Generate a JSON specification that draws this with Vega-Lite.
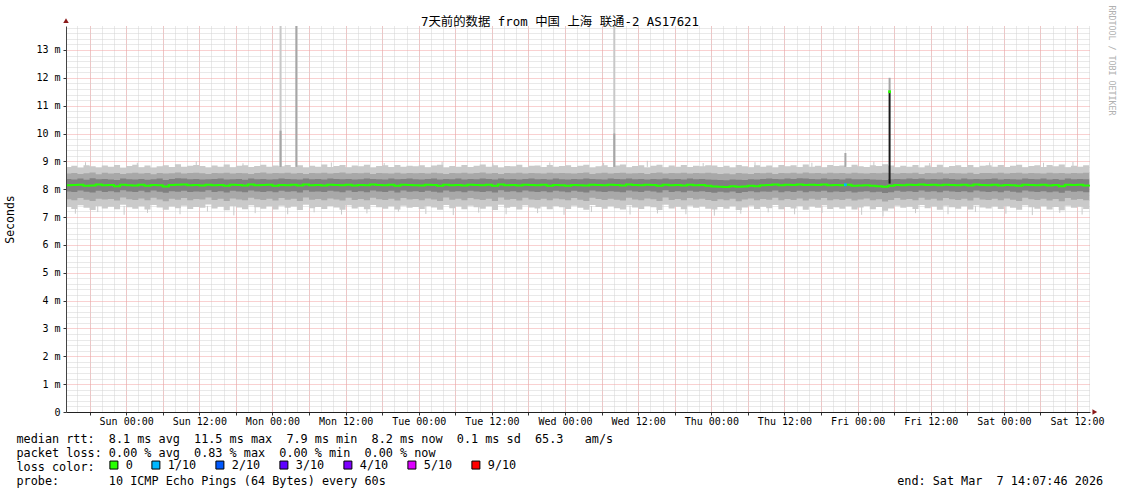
{
"$schema": "https://vega.github.io/schema/vega-lite/v6.json",
"width": 1024, "height": 386,
"autosize": {"type": "none"},
"padding": {"left": 66, "top": 26, "right": 31, "bottom": 82},
"background": "white",
"config": {"view": {"stroke": null}, "font": "DejaVu Sans Mono"},
"title": {"text": "7天前的数据 from 中国 上海 联通-2 AS17621", "font": "'DejaVu Sans Mono', 'Noto Sans CJK SC'", "fontSize": 12.4, "fontWeight": "normal", "color": "#000", "anchor": "middle", "dx": -18, "dy": 34, "baseline": "middle", "offset": 5},
"datasets": {
"smoke": [
{"t":"2026-02-28T14:00Z","a":7.36,"b":7.64,"c":7.92,"m":8.14,"d":8.37,"e":8.56,"f":8.80},
{"t":"2026-02-28T15:00Z","a":7.29,"b":7.60,"c":7.90,"m":8.15,"d":8.35,"e":8.58,"f":8.84},
{"t":"2026-02-28T16:00Z","a":7.42,"b":7.68,"c":7.95,"m":8.16,"d":8.38,"e":8.55,"f":8.77},
{"t":"2026-02-28T17:00Z","a":7.33,"b":7.62,"c":7.91,"m":8.12,"d":8.34,"e":8.57,"f":8.86},
{"t":"2026-02-28T18:00Z","a":7.25,"b":7.58,"c":7.88,"m":8.13,"d":8.39,"e":8.60,"f":8.82},
{"t":"2026-02-28T19:00Z","a":7.40,"b":7.66,"c":7.94,"m":8.17,"d":8.36,"e":8.54,"f":8.78},
{"t":"2026-02-28T20:00Z","a":7.31,"b":7.63,"c":7.90,"m":8.14,"d":8.37,"e":8.59,"f":8.85},
{"t":"2026-02-28T21:00Z","a":7.37,"b":7.65,"c":7.93,"m":8.15,"d":8.35,"e":8.56,"f":8.81},
{"t":"2026-02-28T22:00Z","a":7.28,"b":7.59,"c":7.89,"m":8.11,"d":8.33,"e":8.58,"f":8.87},
{"t":"2026-02-28T23:00Z","a":7.44,"b":7.70,"c":7.96,"m":8.16,"d":8.38,"e":8.55,"f":8.76},
{"t":"2026-03-01T00:00Z","a":7.35,"b":7.64,"c":7.92,"m":8.14,"d":8.36,"e":8.57,"f":8.83},
{"t":"2026-03-01T01:00Z","a":7.30,"b":7.61,"c":7.90,"m":8.13,"d":8.35,"e":8.59,"f":8.88},
{"t":"2026-03-01T02:00Z","a":7.39,"b":7.67,"c":7.94,"m":8.16,"d":8.37,"e":8.56,"f":8.79},
{"t":"2026-03-01T03:00Z","a":7.27,"b":7.60,"c":7.89,"m":8.12,"d":8.34,"e":8.58,"f":8.85},
{"t":"2026-03-01T04:00Z","a":7.43,"b":7.69,"c":7.95,"m":8.15,"d":8.36,"e":8.54,"f":8.77},
{"t":"2026-03-01T05:00Z","a":7.34,"b":7.63,"c":7.91,"m":8.14,"d":8.38,"e":8.58,"f":8.82},
{"t":"2026-03-01T06:00Z","a":7.26,"b":7.57,"c":7.87,"m":8.10,"d":8.33,"e":8.56,"f":8.86},
{"t":"2026-03-01T07:00Z","a":7.38,"b":7.66,"c":7.93,"m":8.15,"d":8.37,"e":8.57,"f":8.80},
{"t":"2026-03-01T08:00Z","a":7.32,"b":7.62,"c":7.91,"m":8.16,"d":8.39,"e":8.60,"f":8.90},
{"t":"2026-03-01T09:00Z","a":7.41,"b":7.68,"c":7.94,"m":8.17,"d":8.38,"e":8.56,"f":8.81},
{"t":"2026-03-01T10:00Z","a":7.29,"b":7.60,"c":7.90,"m":8.14,"d":8.36,"e":8.58,"f":8.84},
{"t":"2026-03-01T11:00Z","a":7.36,"b":7.65,"c":7.92,"m":8.15,"d":8.37,"e":8.59,"f":8.87},
{"t":"2026-03-01T12:00Z","a":7.33,"b":7.63,"c":7.91,"m":8.13,"d":8.35,"e":8.57,"f":8.83},
{"t":"2026-03-01T13:00Z","a":7.45,"b":7.70,"c":7.96,"m":8.16,"d":8.36,"e":8.55,"f":8.78},
{"t":"2026-03-01T14:00Z","a":7.31,"b":7.61,"c":7.90,"m":8.14,"d":8.37,"e":8.58,"f":8.85},
{"t":"2026-03-01T15:00Z","a":7.37,"b":7.66,"c":7.93,"m":8.15,"d":8.38,"e":8.57,"f":8.81},
{"t":"2026-03-01T16:00Z","a":7.24,"b":7.58,"c":7.88,"m":8.12,"d":8.35,"e":8.59,"f":8.89},
{"t":"2026-03-01T17:00Z","a":7.40,"b":7.67,"c":7.94,"m":8.16,"d":8.36,"e":8.56,"f":8.79},
{"t":"2026-03-01T18:00Z","a":7.34,"b":7.63,"c":7.92,"m":8.15,"d":8.37,"e":8.58,"f":8.84},
{"t":"2026-03-01T19:00Z","a":7.28,"b":7.60,"c":7.89,"m":8.13,"d":8.34,"e":8.57,"f":8.86},
{"t":"2026-03-01T20:00Z","a":7.42,"b":7.69,"c":7.95,"m":8.17,"d":8.38,"e":8.55,"f":8.80},
{"t":"2026-03-01T21:00Z","a":7.35,"b":7.64,"c":7.92,"m":8.14,"d":8.36,"e":8.58,"f":8.83},
{"t":"2026-03-01T22:00Z","a":7.30,"b":7.61,"c":7.90,"m":8.15,"d":8.37,"e":8.60,"f":8.88},
{"t":"2026-03-01T23:00Z","a":7.39,"b":7.66,"c":7.93,"m":8.16,"d":8.35,"e":8.56,"f":8.81},
{"t":"2026-03-02T00:00Z","a":7.27,"b":7.59,"c":7.89,"m":8.12,"d":8.36,"e":8.58,"f":8.85},
{"t":"2026-03-02T01:00Z","a":7.41,"b":7.68,"c":7.94,"m":8.15,"d":8.38,"e":8.57,"f":8.82},
{"t":"2026-03-02T02:00Z","a":7.33,"b":7.62,"c":7.91,"m":8.14,"d":8.37,"e":8.59,"f":8.87},
{"t":"2026-03-02T03:00Z","a":7.38,"b":7.66,"c":7.93,"m":8.16,"d":8.36,"e":8.56,"f":8.80},
{"t":"2026-03-02T04:00Z","a":7.25,"b":7.58,"c":7.88,"m":8.13,"d":8.35,"e":8.58,"f":8.86},
{"t":"2026-03-02T05:00Z","a":7.44,"b":7.70,"c":7.96,"m":8.17,"d":8.38,"e":8.55,"f":8.78},
{"t":"2026-03-02T06:00Z","a":7.32,"b":7.62,"c":7.91,"m":8.14,"d":8.36,"e":8.58,"f":8.84},
{"t":"2026-03-02T07:00Z","a":7.36,"b":7.65,"c":7.92,"m":8.15,"d":8.37,"e":8.57,"f":8.81},
{"t":"2026-03-02T08:00Z","a":7.29,"b":7.60,"c":7.90,"m":8.13,"d":8.35,"e":8.59,"f":8.89},
{"t":"2026-03-02T09:00Z","a":7.40,"b":7.67,"c":7.94,"m":8.16,"d":8.38,"e":8.56,"f":8.80},
{"t":"2026-03-02T10:00Z","a":7.34,"b":7.63,"c":7.92,"m":8.15,"d":8.37,"e":8.58,"f":8.83},
{"t":"2026-03-02T11:00Z","a":7.26,"b":7.59,"c":7.89,"m":8.14,"d":8.36,"e":8.60,"f":8.87},
{"t":"2026-03-02T12:00Z","a":7.42,"b":7.69,"c":7.95,"m":8.16,"d":8.37,"e":8.56,"f":8.79},
{"t":"2026-03-02T13:00Z","a":7.31,"b":7.61,"c":7.90,"m":8.13,"d":8.35,"e":8.58,"f":8.85},
{"t":"2026-03-02T14:00Z","a":7.37,"b":7.65,"c":7.93,"m":8.15,"d":8.36,"e":8.57,"f":8.82},
{"t":"2026-03-02T15:00Z","a":7.28,"b":7.60,"c":7.89,"m":8.14,"d":8.38,"e":8.59,"f":8.88},
{"t":"2026-03-02T16:00Z","a":7.43,"b":7.69,"c":7.95,"m":8.17,"d":8.37,"e":8.55,"f":8.78},
{"t":"2026-03-02T17:00Z","a":7.35,"b":7.64,"c":7.92,"m":8.15,"d":8.36,"e":8.58,"f":8.83},
{"t":"2026-03-02T18:00Z","a":7.30,"b":7.61,"c":7.90,"m":8.14,"d":8.35,"e":8.57,"f":8.86},
{"t":"2026-03-02T19:00Z","a":7.39,"b":7.66,"c":7.94,"m":8.16,"d":8.38,"e":8.56,"f":8.80},
{"t":"2026-03-02T20:00Z","a":7.27,"b":7.59,"c":7.88,"m":8.12,"d":8.36,"e":8.59,"f":8.87},
{"t":"2026-03-02T21:00Z","a":7.41,"b":7.68,"c":7.95,"m":8.16,"d":8.37,"e":8.56,"f":8.81},
{"t":"2026-03-02T22:00Z","a":7.33,"b":7.63,"c":7.91,"m":8.15,"d":8.38,"e":8.58,"f":8.84},
{"t":"2026-03-02T23:00Z","a":7.36,"b":7.65,"c":7.93,"m":8.14,"d":8.36,"e":8.57,"f":8.82},
{"t":"2026-03-03T00:00Z","a":7.29,"b":7.60,"c":7.90,"m":8.13,"d":8.35,"e":8.58,"f":8.86},
{"t":"2026-03-03T01:00Z","a":7.40,"b":7.67,"c":7.94,"m":8.16,"d":8.37,"e":8.56,"f":8.79},
{"t":"2026-03-03T02:00Z","a":7.34,"b":7.63,"c":7.91,"m":8.15,"d":8.38,"e":8.59,"f":8.85},
{"t":"2026-03-03T03:00Z","a":7.26,"b":7.58,"c":7.88,"m":8.12,"d":8.35,"e":8.57,"f":8.88},
{"t":"2026-03-03T04:00Z","a":7.43,"b":7.70,"c":7.95,"m":8.16,"d":8.37,"e":8.55,"f":8.78},
{"t":"2026-03-03T05:00Z","a":7.32,"b":7.62,"c":7.91,"m":8.14,"d":8.36,"e":8.58,"f":8.83},
{"t":"2026-03-03T06:00Z","a":7.38,"b":7.66,"c":7.93,"m":8.15,"d":8.38,"e":8.57,"f":8.81},
{"t":"2026-03-03T07:00Z","a":7.28,"b":7.60,"c":7.89,"m":8.13,"d":8.35,"e":8.59,"f":8.87},
{"t":"2026-03-03T08:00Z","a":7.41,"b":7.68,"c":7.94,"m":8.16,"d":8.37,"e":8.56,"f":8.80},
{"t":"2026-03-03T09:00Z","a":7.35,"b":7.64,"c":7.92,"m":8.15,"d":8.36,"e":8.58,"f":8.84},
{"t":"2026-03-03T10:00Z","a":7.30,"b":7.61,"c":7.90,"m":8.14,"d":8.38,"e":8.60,"f":8.89},
{"t":"2026-03-03T11:00Z","a":7.39,"b":7.66,"c":7.93,"m":8.16,"d":8.37,"e":8.56,"f":8.81},
{"t":"2026-03-03T12:00Z","a":7.25,"b":7.58,"c":7.88,"m":8.12,"d":8.35,"e":8.58,"f":8.86},
{"t":"2026-03-03T13:00Z","a":7.44,"b":7.70,"c":7.96,"m":8.17,"d":8.38,"e":8.55,"f":8.78},
{"t":"2026-03-03T14:00Z","a":7.33,"b":7.62,"c":7.91,"m":8.14,"d":8.36,"e":8.58,"f":8.83},
{"t":"2026-03-03T15:00Z","a":7.37,"b":7.65,"c":7.93,"m":8.15,"d":8.37,"e":8.57,"f":8.82},
{"t":"2026-03-03T16:00Z","a":7.27,"b":7.59,"c":7.89,"m":8.13,"d":8.35,"e":8.59,"f":8.88},
{"t":"2026-03-03T17:00Z","a":7.42,"b":7.69,"c":7.95,"m":8.16,"d":8.37,"e":8.56,"f":8.79},
{"t":"2026-03-03T18:00Z","a":7.34,"b":7.63,"c":7.92,"m":8.15,"d":8.38,"e":8.58,"f":8.84},
{"t":"2026-03-03T19:00Z","a":7.31,"b":7.61,"c":7.90,"m":8.14,"d":8.36,"e":8.57,"f":8.85},
{"t":"2026-03-03T20:00Z","a":7.38,"b":7.66,"c":7.93,"m":8.16,"d":8.37,"e":8.56,"f":8.80},
{"t":"2026-03-03T21:00Z","a":7.28,"b":7.60,"c":7.89,"m":8.12,"d":8.35,"e":8.59,"f":8.87},
{"t":"2026-03-03T22:00Z","a":7.40,"b":7.67,"c":7.94,"m":8.15,"d":8.38,"e":8.57,"f":8.81},
{"t":"2026-03-03T23:00Z","a":7.35,"b":7.64,"c":7.92,"m":8.14,"d":8.36,"e":8.58,"f":8.83},
{"t":"2026-03-04T00:00Z","a":7.29,"b":7.60,"c":7.89,"m":8.12,"d":8.35,"e":8.57,"f":8.86},
{"t":"2026-03-04T01:00Z","a":7.41,"b":7.68,"c":7.94,"m":8.15,"d":8.37,"e":8.56,"f":8.80},
{"t":"2026-03-04T02:00Z","a":7.33,"b":7.62,"c":7.91,"m":8.14,"d":8.36,"e":8.58,"f":8.84},
{"t":"2026-03-04T03:00Z","a":7.26,"b":7.58,"c":7.88,"m":8.13,"d":8.38,"e":8.60,"f":8.88},
{"t":"2026-03-04T04:00Z","a":7.43,"b":7.69,"c":7.95,"m":8.16,"d":8.37,"e":8.55,"f":8.78},
{"t":"2026-03-04T05:00Z","a":7.36,"b":7.65,"c":7.92,"m":8.15,"d":8.36,"e":8.57,"f":8.82},
{"t":"2026-03-04T06:00Z","a":7.30,"b":7.61,"c":7.90,"m":8.14,"d":8.35,"e":8.59,"f":8.86},
{"t":"2026-03-04T07:00Z","a":7.39,"b":7.66,"c":7.93,"m":8.16,"d":8.38,"e":8.56,"f":8.80},
{"t":"2026-03-04T08:00Z","a":7.32,"b":7.62,"c":7.91,"m":8.15,"d":8.37,"e":8.58,"f":8.85},
{"t":"2026-03-04T09:00Z","a":7.27,"b":7.59,"c":7.89,"m":8.13,"d":8.36,"e":8.59,"f":8.89},
{"t":"2026-03-04T10:00Z","a":7.42,"b":7.69,"c":7.95,"m":8.17,"d":8.38,"e":8.56,"f":8.79},
{"t":"2026-03-04T11:00Z","a":7.34,"b":7.63,"c":7.92,"m":8.15,"d":8.36,"e":8.57,"f":8.83},
{"t":"2026-03-04T12:00Z","a":7.29,"b":7.60,"c":7.90,"m":8.14,"d":8.37,"e":8.58,"f":8.86},
{"t":"2026-03-04T13:00Z","a":7.40,"b":7.67,"c":7.94,"m":8.16,"d":8.35,"e":8.55,"f":8.78},
{"t":"2026-03-04T14:00Z","a":7.35,"b":7.64,"c":7.92,"m":8.15,"d":8.37,"e":8.58,"f":8.84},
{"t":"2026-03-04T15:00Z","a":7.25,"b":7.58,"c":7.88,"m":8.12,"d":8.36,"e":8.60,"f":8.88},
{"t":"2026-03-04T16:00Z","a":7.44,"b":7.70,"c":7.96,"m":8.16,"d":8.38,"e":8.56,"f":8.79},
{"t":"2026-03-04T17:00Z","a":7.31,"b":7.61,"c":7.90,"m":8.14,"d":8.36,"e":8.58,"f":8.85},
{"t":"2026-03-04T18:00Z","a":7.37,"b":7.65,"c":7.93,"m":8.15,"d":8.37,"e":8.57,"f":8.81},
{"t":"2026-03-04T19:00Z","a":7.28,"b":7.60,"c":7.89,"m":8.13,"d":8.35,"e":8.59,"f":8.87},
{"t":"2026-03-04T20:00Z","a":7.41,"b":7.68,"c":7.94,"m":8.16,"d":8.38,"e":8.56,"f":8.80},
{"t":"2026-03-04T21:00Z","a":7.33,"b":7.63,"c":7.91,"m":8.14,"d":8.36,"e":8.58,"f":8.84},
{"t":"2026-03-04T22:00Z","a":7.38,"b":7.66,"c":7.93,"m":8.15,"d":8.37,"e":8.57,"f":8.82},
{"t":"2026-03-04T23:00Z","a":7.30,"b":7.61,"c":7.90,"m":8.12,"d":8.35,"e":8.59,"f":8.86},
{"t":"2026-03-05T00:00Z","a":7.27,"b":7.58,"c":7.87,"m":8.10,"d":8.34,"e":8.57,"f":8.85},
{"t":"2026-03-05T01:00Z","a":7.36,"b":7.64,"c":7.91,"m":8.09,"d":8.33,"e":8.55,"f":8.80},
{"t":"2026-03-05T02:00Z","a":7.30,"b":7.60,"c":7.88,"m":8.08,"d":8.32,"e":8.56,"f":8.84},
{"t":"2026-03-05T03:00Z","a":7.39,"b":7.66,"c":7.92,"m":8.11,"d":8.35,"e":8.54,"f":8.78},
{"t":"2026-03-05T04:00Z","a":7.25,"b":7.57,"c":7.86,"m":8.09,"d":8.34,"e":8.58,"f":8.87},
{"t":"2026-03-05T05:00Z","a":7.34,"b":7.63,"c":7.90,"m":8.10,"d":8.33,"e":8.56,"f":8.82},
{"t":"2026-03-05T06:00Z","a":7.41,"b":7.67,"c":7.93,"m":8.12,"d":8.36,"e":8.55,"f":8.79},
{"t":"2026-03-05T07:00Z","a":7.29,"b":7.60,"c":7.89,"m":8.11,"d":8.35,"e":8.58,"f":8.86},
{"t":"2026-03-05T08:00Z","a":7.37,"b":7.65,"c":7.92,"m":8.14,"d":8.37,"e":8.57,"f":8.81},
{"t":"2026-03-05T09:00Z","a":7.32,"b":7.62,"c":7.91,"m":8.15,"d":8.38,"e":8.59,"f":8.85},
{"t":"2026-03-05T10:00Z","a":7.43,"b":7.69,"c":7.95,"m":8.17,"d":8.37,"e":8.55,"f":8.78},
{"t":"2026-03-05T11:00Z","a":7.28,"b":7.60,"c":7.89,"m":8.14,"d":8.36,"e":8.58,"f":8.87},
{"t":"2026-03-05T12:00Z","a":7.36,"b":7.65,"c":7.93,"m":8.16,"d":8.38,"e":8.57,"f":8.82},
{"t":"2026-03-05T13:00Z","a":7.31,"b":7.61,"c":7.90,"m":8.15,"d":8.37,"e":8.59,"f":8.86},
{"t":"2026-03-05T14:00Z","a":7.40,"b":7.67,"c":7.94,"m":8.17,"d":8.39,"e":8.56,"f":8.80},
{"t":"2026-03-05T15:00Z","a":7.26,"b":7.59,"c":7.89,"m":8.15,"d":8.38,"e":8.60,"f":8.89},
{"t":"2026-03-05T16:00Z","a":7.38,"b":7.66,"c":7.93,"m":8.16,"d":8.37,"e":8.57,"f":8.81},
{"t":"2026-03-05T17:00Z","a":7.33,"b":7.62,"c":7.91,"m":8.15,"d":8.36,"e":8.58,"f":8.84},
{"t":"2026-03-05T18:00Z","a":7.42,"b":7.68,"c":7.94,"m":8.17,"d":8.38,"e":8.56,"f":8.79},
{"t":"2026-03-05T19:00Z","a":7.29,"b":7.60,"c":7.89,"m":8.14,"d":8.36,"e":8.59,"f":8.87},
{"t":"2026-03-05T20:00Z","a":7.35,"b":7.64,"c":7.92,"m":8.15,"d":8.37,"e":8.57,"f":8.83},
{"t":"2026-03-05T21:00Z","a":7.30,"b":7.61,"c":7.90,"m":8.14,"d":8.35,"e":8.58,"f":8.85},
{"t":"2026-03-05T22:00Z","a":7.39,"b":7.66,"c":7.93,"m":8.16,"d":8.38,"e":8.56,"f":8.80},
{"t":"2026-03-05T23:00Z","a":7.27,"b":7.59,"c":7.88,"m":8.12,"d":8.36,"e":8.59,"f":8.88},
{"t":"2026-03-06T00:00Z","a":7.34,"b":7.63,"c":7.91,"m":8.13,"d":8.36,"e":8.57,"f":8.82},
{"t":"2026-03-06T01:00Z","a":7.40,"b":7.67,"c":7.93,"m":8.14,"d":8.37,"e":8.56,"f":8.80},
{"t":"2026-03-06T02:00Z","a":7.28,"b":7.60,"c":7.89,"m":8.12,"d":8.35,"e":8.58,"f":8.86},
{"t":"2026-03-06T03:00Z","a":7.36,"b":7.64,"c":7.91,"m":8.11,"d":8.34,"e":8.57,"f":8.83},
{"t":"2026-03-06T04:00Z","a":7.23,"b":7.56,"c":7.86,"m":8.09,"d":8.33,"e":8.59,"f":8.90},
{"t":"2026-03-06T05:00Z","a":7.31,"b":7.61,"c":7.89,"m":8.12,"d":8.36,"e":8.58,"f":8.85},
{"t":"2026-03-06T06:00Z","a":7.41,"b":7.68,"c":7.94,"m":8.15,"d":8.37,"e":8.56,"f":8.79},
{"t":"2026-03-06T07:00Z","a":7.33,"b":7.62,"c":7.91,"m":8.14,"d":8.36,"e":8.58,"f":8.84},
{"t":"2026-03-06T08:00Z","a":7.37,"b":7.65,"c":7.93,"m":8.16,"d":8.38,"e":8.57,"f":8.81},
{"t":"2026-03-06T09:00Z","a":7.29,"b":7.60,"c":7.90,"m":8.15,"d":8.37,"e":8.59,"f":8.87},
{"t":"2026-03-06T10:00Z","a":7.43,"b":7.69,"c":7.95,"m":8.17,"d":8.38,"e":8.55,"f":8.78},
{"t":"2026-03-06T11:00Z","a":7.32,"b":7.62,"c":7.91,"m":8.15,"d":8.36,"e":8.58,"f":8.85},
{"t":"2026-03-06T12:00Z","a":7.38,"b":7.66,"c":7.93,"m":8.16,"d":8.37,"e":8.57,"f":8.80},
{"t":"2026-03-06T13:00Z","a":7.26,"b":7.59,"c":7.89,"m":8.14,"d":8.36,"e":8.60,"f":8.88},
{"t":"2026-03-06T14:00Z","a":7.41,"b":7.68,"c":7.94,"m":8.16,"d":8.38,"e":8.56,"f":8.79},
{"t":"2026-03-06T15:00Z","a":7.35,"b":7.64,"c":7.92,"m":8.15,"d":8.37,"e":8.58,"f":8.83},
{"t":"2026-03-06T16:00Z","a":7.30,"b":7.61,"c":7.90,"m":8.14,"d":8.35,"e":8.57,"f":8.86},
{"t":"2026-03-06T17:00Z","a":7.39,"b":7.66,"c":7.93,"m":8.16,"d":8.38,"e":8.56,"f":8.80},
{"t":"2026-03-06T18:00Z","a":7.27,"b":7.59,"c":7.89,"m":8.13,"d":8.36,"e":8.59,"f":8.87},
{"t":"2026-03-06T19:00Z","a":7.42,"b":7.69,"c":7.95,"m":8.17,"d":8.37,"e":8.55,"f":8.79},
{"t":"2026-03-06T20:00Z","a":7.34,"b":7.63,"c":7.92,"m":8.15,"d":8.36,"e":8.58,"f":8.84},
{"t":"2026-03-06T21:00Z","a":7.31,"b":7.61,"c":7.90,"m":8.14,"d":8.37,"e":8.58,"f":8.86},
{"t":"2026-03-06T22:00Z","a":7.38,"b":7.66,"c":7.93,"m":8.16,"d":8.38,"e":8.57,"f":8.81},
{"t":"2026-03-06T23:00Z","a":7.29,"b":7.60,"c":7.89,"m":8.13,"d":8.35,"e":8.59,"f":8.87},
{"t":"2026-03-07T00:00Z","a":7.40,"b":7.67,"c":7.94,"m":8.15,"d":8.37,"e":8.56,"f":8.80},
{"t":"2026-03-07T01:00Z","a":7.33,"b":7.62,"c":7.91,"m":8.14,"d":8.36,"e":8.58,"f":8.84},
{"t":"2026-03-07T02:00Z","a":7.26,"b":7.58,"c":7.88,"m":8.12,"d":8.35,"e":8.59,"f":8.88},
{"t":"2026-03-07T03:00Z","a":7.42,"b":7.69,"c":7.95,"m":8.16,"d":8.38,"e":8.56,"f":8.79},
{"t":"2026-03-07T04:00Z","a":7.35,"b":7.64,"c":7.92,"m":8.15,"d":8.37,"e":8.58,"f":8.83},
{"t":"2026-03-07T05:00Z","a":7.30,"b":7.61,"c":7.90,"m":8.14,"d":8.36,"e":8.57,"f":8.86},
{"t":"2026-03-07T06:00Z","a":7.39,"b":7.66,"c":7.93,"m":8.16,"d":8.38,"e":8.56,"f":8.80},
{"t":"2026-03-07T07:00Z","a":7.27,"b":7.59,"c":7.89,"m":8.13,"d":8.35,"e":8.59,"f":8.87},
{"t":"2026-03-07T08:00Z","a":7.36,"b":7.65,"c":7.92,"m":8.15,"d":8.37,"e":8.57,"f":8.82},
{"t":"2026-03-07T09:00Z","a":7.24,"b":7.57,"c":7.87,"m":8.11,"d":8.34,"e":8.58,"f":8.89},
{"t":"2026-03-07T10:00Z","a":7.41,"b":7.68,"c":7.94,"m":8.16,"d":8.38,"e":8.56,"f":8.79},
{"t":"2026-03-07T11:00Z","a":7.33,"b":7.62,"c":7.91,"m":8.15,"d":8.36,"e":8.58,"f":8.84},
{"t":"2026-03-07T12:00Z","a":7.37,"b":7.65,"c":7.93,"m":8.16,"d":8.37,"e":8.57,"f":8.81},
{"t":"2026-03-07T13:00Z","a":7.29,"b":7.60,"c":7.89,"m":8.13,"d":8.36,"e":8.59,"f":8.86},
{"t":"2026-03-07T14:00Z","a":7.38,"b":7.66,"c":7.93,"m":8.16,"d":8.37,"e":8.56,"f":8.80}
],
"whisk": [
{"t":"2026-02-28T15:40Z","lo":7.12,"hi":7.4},{"t":"2026-02-28T17:20Z","lo":8.8,"hi":8.97},{"t":"2026-02-28T19:20Z","lo":7.18,"hi":7.4},{"t":"2026-02-28T23:40Z","lo":7.08,"hi":7.4},
{"t":"2026-03-01T01:50Z","lo":8.8,"hi":8.95},{"t":"2026-03-01T03:30Z","lo":7.15,"hi":7.4},{"t":"2026-03-01T08:50Z","lo":7.10,"hi":7.4},{"t":"2026-03-01T11:30Z","lo":8.8,"hi":9.0},
{"t":"2026-03-01T13:20Z","lo":7.20,"hi":7.4},{"t":"2026-03-01T17:40Z","lo":7.06,"hi":7.4},{"t":"2026-03-01T19:10Z","lo":8.8,"hi":8.93},{"t":"2026-03-01T21:10Z","lo":7.14,"hi":7.4},
{"t":"2026-03-02T02:30Z","lo":7.10,"hi":7.4},{"t":"2026-03-02T06:50Z","lo":7.17,"hi":7.4},{"t":"2026-03-02T09:40Z","lo":8.8,"hi":8.96},{"t":"2026-03-02T11:20Z","lo":7.09,"hi":7.4},
{"t":"2026-03-02T15:30Z","lo":7.13,"hi":7.4},{"t":"2026-03-02T18:20Z","lo":8.8,"hi":8.94},{"t":"2026-03-02T20:40Z","lo":7.19,"hi":7.4},{"t":"2026-03-03T01:10Z","lo":7.11,"hi":7.4},
{"t":"2026-03-03T03:50Z","lo":8.8,"hi":8.98},{"t":"2026-03-03T05:40Z","lo":7.07,"hi":7.4},{"t":"2026-03-03T09:50Z","lo":7.16,"hi":7.4},{"t":"2026-03-03T12:10Z","lo":8.8,"hi":8.93},
{"t":"2026-03-03T14:20Z","lo":7.10,"hi":7.4},{"t":"2026-03-03T19:30Z","lo":7.14,"hi":7.4},{"t":"2026-03-03T21:30Z","lo":8.8,"hi":8.96},{"t":"2026-03-03T23:50Z","lo":7.08,"hi":7.4},
{"t":"2026-03-04T04:20Z","lo":7.18,"hi":7.4},{"t":"2026-03-04T06:20Z","lo":8.8,"hi":8.95},{"t":"2026-03-04T10:40Z","lo":7.09,"hi":7.4},{"t":"2026-03-04T13:30Z","lo":8.8,"hi":9.02},
{"t":"2026-03-04T15:10Z","lo":7.13,"hi":7.4},{"t":"2026-03-04T19:50Z","lo":7.10,"hi":7.4},{"t":"2026-03-04T22:40Z","lo":8.8,"hi":8.94},{"t":"2026-03-05T00:30Z","lo":7.05,"hi":7.4},
{"t":"2026-03-05T04:50Z","lo":7.12,"hi":7.4},{"t":"2026-03-05T07:10Z","lo":8.8,"hi":8.97},{"t":"2026-03-05T09:20Z","lo":7.17,"hi":7.4},{"t":"2026-03-05T13:40Z","lo":7.10,"hi":7.4},
{"t":"2026-03-05T16:30Z","lo":8.8,"hi":8.95},{"t":"2026-03-05T18:10Z","lo":7.15,"hi":7.4},{"t":"2026-03-06T00:40Z","lo":7.08,"hi":7.4},{"t":"2026-03-06T02:40Z","lo":8.8,"hi":8.99},
{"t":"2026-03-06T04:10Z","lo":7.02,"hi":7.4},{"t":"2026-03-06T09:30Z","lo":7.14,"hi":7.4},{"t":"2026-03-06T11:50Z","lo":8.8,"hi":8.94},{"t":"2026-03-06T14:50Z","lo":7.10,"hi":7.4},
{"t":"2026-03-06T19:20Z","lo":7.18,"hi":7.4},{"t":"2026-03-06T21:40Z","lo":8.8,"hi":8.96},{"t":"2026-03-07T00:20Z","lo":7.12,"hi":7.4},{"t":"2026-03-07T04:40Z","lo":7.07,"hi":7.4},
{"t":"2026-03-07T06:30Z","lo":8.8,"hi":8.95},{"t":"2026-03-07T09:10Z","lo":7.15,"hi":7.4},{"t":"2026-03-07T11:20Z","lo":8.8,"hi":8.98},{"t":"2026-03-07T12:50Z","lo":7.09,"hi":7.4}
],
"spikes": [
{"t":"2026-03-02T01:20Z","lo":8.8,"hi":14,"k":"light"},
{"t":"2026-03-02T01:20Z","lo":8.8,"hi":10.1,"k":"mid"},
{"t":"2026-03-02T03:55Z","lo":8.8,"hi":14,"k":"mid"},
{"t":"2026-03-04T08:05Z","lo":8.8,"hi":14,"k":"light"},
{"t":"2026-03-04T08:05Z","lo":8.8,"hi":10.0,"k":"mid"},
{"t":"2026-03-05T22:00Z","lo":8.8,"hi":9.3,"k":"mid"},
{"t":"2026-03-06T05:15Z","lo":11.5,"hi":12.0,"k":"mid"},
{"t":"2026-03-06T05:15Z","lo":8.2,"hi":11.5,"k":"dark"}
],
"dots": [
{"t":"2026-03-06T05:15Z","m":11.5,"loss":"0"},
{"t":"2026-03-05T22:00Z","m":8.16,"loss":"1/10"}
],
"one": [{"n": 1}]
},
"layer": [
{
"data": {"name": "whisk"},
"mark": {"type": "rule", "strokeWidth": 1, "color": "#cacaca", "clip": true},
"encoding": {
"x": {"field": "t", "type": "temporal", "axis": null,
"scale": {"type": "utc", "domain": [1772287666000, 1772892466000]}},
"y": {"field": "lo", "type": "quantitative", "axis": null,
"scale": {"domain": [0, 13.86], "nice": false, "zero": false}},
"y2": {"field": "hi"}
}
},
{
"data": {"name": "smoke"},
"mark": {"type": "area", "interpolate": "step-after", "color": "#cacaca", "clip": true},
"encoding": {
"x": {"field": "t", "type": "temporal",
"axis": {"orient": "bottom", "values": [1772294400000,1772301600000,1772308800000,1772316000000,1772323200000,1772330400000,1772337600000,1772344800000,1772352000000,1772359200000,1772366400000,1772373600000,1772380800000,1772388000000,1772395200000,1772402400000,1772409600000,1772416800000,1772424000000,1772431200000,1772438400000,1772445600000,1772452800000,1772460000000,1772467200000,1772474400000,1772481600000,1772488800000,1772496000000,1772503200000,1772510400000,1772517600000,1772524800000,1772532000000,1772539200000,1772546400000,1772553600000,1772560800000,1772568000000,1772575200000,1772582400000,1772589600000,1772596800000,1772604000000,1772611200000,1772618400000,1772625600000,1772632800000,1772640000000,1772647200000,1772654400000,1772661600000,1772668800000,1772676000000,1772683200000,1772690400000,1772697600000,1772704800000,1772712000000,1772719200000,1772726400000,1772733600000,1772740800000,1772748000000,1772755200000,1772762400000,1772769600000,1772776800000,1772784000000,1772791200000,1772798400000,1772805600000,1772812800000,1772820000000,1772827200000,1772834400000,1772841600000,1772848800000,1772856000000,1772863200000,1772870400000,1772877600000,1772884800000,1772892000000],
"grid": true, "gridColor": "#d2d2d2", "gridDash": [1, 1], "gridWidth": 1,
"domain": false, "ticks": false, "labels": false, "title": null, "zindex": 0}},
"y": {"field": "a", "type": "quantitative",
"axis": {"orient": "left", "values": [0.2,0.4,0.6,0.8,1.2,1.4,1.6,1.8,2.2,2.4,2.6,2.8,3.2,3.4,3.6,3.8,4.2,4.4,4.6,4.8,5.2,5.4,5.6,5.8,6.2,6.4,6.6,6.8,7.2,7.4,7.6,7.8,8.2,8.4,8.6,8.8,9.2,9.4,9.6,9.8,10.2,10.4,10.6,10.8,11.2,11.4,11.6,11.8,12.2,12.4,12.6,12.8,13.2,13.4,13.6,13.8],
"grid": true, "gridColor": "#d2d2d2", "gridDash": [1, 1], "gridWidth": 1,
"domain": false, "ticks": false, "labels": false, "title": null, "zindex": 0}},
"y2": {"field": "f"}
}
},
{
"data": {"name": "smoke"},
"mark": {"type": "area", "interpolate": "step-after", "color": "#a8a8a8", "clip": true},
"encoding": {
"x": {"field": "t", "type": "temporal",
"axis": {"orient": "bottom", "values": [1772301600000,1772323200000,1772344800000,1772366400000,1772388000000,1772409600000,1772431200000,1772452800000,1772474400000,1772496000000,1772517600000,1772539200000,1772560800000,1772582400000,1772604000000,1772625600000,1772647200000,1772668800000,1772690400000,1772712000000,1772733600000,1772755200000,1772776800000,1772798400000,1772820000000,1772841600000,1772863200000,1772884800000],
"grid": true, "gridColor": "#f2a2a2", "gridDash": [1, 1], "gridWidth": 1,
"domain": false, "ticks": true, "tickSize": 3, "tickColor": "#333333", "labels": false, "title": null, "zindex": 0}},
"y": {"field": "b", "type": "quantitative",
"axis": {"orient": "left", "values": [0,1,2,3,4,5,6,7,8,9,10,11,12,13],
"grid": true, "gridColor": "#f2a2a2", "gridDash": [1, 1], "gridWidth": 1,
"domain": false, "ticks": false, "labels": false, "title": null, "zindex": 0}},
"y2": {"field": "e"}
}
},
{
"data": {"name": "smoke"},
"mark": {"type": "area", "interpolate": "step-after", "color": "#808080", "clip": true},
"encoding": {
"x": {"field": "t", "type": "temporal",
"axis": {"orient": "bottom", "values": [1772323200000,1772366400000,1772409600000,1772452800000,1772496000000,1772539200000,1772582400000,1772625600000,1772668800000,1772712000000,1772755200000,1772798400000,1772841600000,1772884800000],
"grid": false, "domain": true, "domainColor": "#222222", "ticks": false, "tickSize": 3,
"labelExpr": "utcFormat(datum.value, '%a %H:%M')",
"labelFont": "DejaVu Sans Mono", "labelFontSize": 10, "labelColor": "#000000", "labelPadding": 4,
"labelOverlap": false, "labelFlush": false, "labelBound": false,
"title": ["median rtt:\u00a0\u00a08.1 ms avg\u00a0\u00a011.5 ms max\u00a0\u00a07.9 ms min\u00a0\u00a08.2 ms now\u00a0\u00a00.1 ms sd\u00a0\u00a065.3\u00a0\u00a0\u00a0am/s", "packet loss: 0.00 % avg\u00a0\u00a00.83 % max\u00a0\u00a00.00 % min\u00a0\u00a00.00 % now", "loss color:", "probe:\u00a0\u00a0\u00a0\u00a0\u00a0\u00a0\u00a010 ICMP Echo Pings (64 Bytes) every 60s\u00a0\u00a0\u00a0\u00a0\u00a0\u00a0\u00a0\u00a0\u00a0\u00a0\u00a0\u00a0\u00a0\u00a0\u00a0\u00a0\u00a0\u00a0\u00a0\u00a0\u00a0\u00a0\u00a0\u00a0\u00a0\u00a0\u00a0\u00a0\u00a0\u00a0\u00a0\u00a0\u00a0\u00a0\u00a0\u00a0\u00a0\u00a0\u00a0\u00a0\u00a0\u00a0\u00a0\u00a0\u00a0\u00a0\u00a0\u00a0\u00a0\u00a0\u00a0\u00a0\u00a0\u00a0\u00a0\u00a0\u00a0\u00a0\u00a0\u00a0\u00a0\u00a0\u00a0\u00a0\u00a0\u00a0\u00a0\u00a0\u00a0\u00a0\u00a0\u00a0end: Sat Mar\u00a0\u00a07 14:07:46 2026"],
"titleFont": "DejaVu Sans Mono", "titleFontSize": 11.8, "titleFontWeight": "normal", "titleColor": "#000000",
"titleAlign": "left", "titleBaseline": "alphabetic", "titleX": -50, "titleY": 30, "titleLineHeight": 14, "zindex": 1}},
"y": {"field": "c", "type": "quantitative",
"axis": {"orient": "right", "domain": false, "ticks": false, "labels": false, "grid": false,
"title": "RRDTOOL / TOBI OETIKER", "titleFont": "DejaVu Sans Mono", "titleFontSize": 8.3, "titleFontWeight": "normal", "titleColor": "#b0b0b0",
"titleAngle": 90, "titleX": 20, "titleY": 34, "titleAlign": "center", "titleBaseline": "middle"}},
"y2": {"field": "d"}
}
},
{
"data": {"name": "spikes"},
"mark": {"type": "rule", "strokeWidth": 2, "clip": true},
"encoding": {
"x": {"field": "t", "type": "temporal", "axis": null},
"y": {"field": "lo", "type": "quantitative",
"axis": {"orient": "left", "values": [0,1,2,3,4,5,6,7,8,9,10,11,12,13],
"grid": false, "domain": true, "domainColor": "#444444", "ticks": true, "tickSize": 3, "tickColor": "#333333",
"labelExpr": "datum.value == 0 ? '0\u00a0\u00a0' : datum.value + ' m'",
"labelFont": "DejaVu Sans Mono", "labelFontSize": 10, "labelColor": "#000000", "labelPadding": 3,
"title": "Seconds", "titleFont": "DejaVu Sans Mono", "titleFontSize": 11.5, "titleFontWeight": "normal", "titleColor": "#000000",
"titleAngle": -90, "titleX": -56, "titleY": 193, "titleAlign": "center", "titleBaseline": "middle", "zindex": 1}},
"y2": {"field": "hi"},
"stroke": {"field": "k", "type": "nominal", "scale": {"domain": ["light", "mid", "dark"], "range": ["#c8c8c8", "#a6a6a6", "#1c1c1c"]}, "legend": null}
}
},
{
"data": {"name": "smoke"},
"mark": {"type": "line", "interpolate": "step-after", "color": "#26ff00", "strokeWidth": 2, "clip": true},
"encoding": {
"x": {"field": "t", "type": "temporal", "axis": null},
"y": {"field": "m", "type": "quantitative", "axis": null}
}
},
{
"data": {"name": "dots"},
"mark": {"type": "square", "size": 8, "opacity": 1, "clip": true},
"encoding": {
"x": {"field": "t", "type": "temporal", "axis": null},
"y": {"field": "m", "type": "quantitative", "axis": null},
"color": {"field": "loss", "type": "nominal",
"scale": {"domain": ["0", "1/10", "2/10", "3/10", "4/10", "5/10", "9/10"], "range": ["#26ff00", "#00b8ff", "#0059ff", "#5e00ff", "#7e00ff", "#dd00ff", "#ff0000"]},
"legend": {"orient": "none", "legendX": 42, "legendY": 433, "direction": "horizontal", "title": null,
"labelFont": "DejaVu Sans Mono", "labelFontSize": 11.8, "labelColor": "#000000", "labelOffset": 6, "columnPadding": 16,
"symbolType": "square", "symbolSize": 64, "symbolStrokeColor": "#000000", "symbolStrokeWidth": 1, "symbolOpacity": 1}
}
}
},
{
"data": {"name": "one"},
"mark": {"type": "point", "shape": "triangle-up", "filled": true, "color": "#8b1a1a", "size": 30, "opacity": 1, "clip": false},
"encoding": {
"x": {"datum": 1772287666000, "type": "temporal", "axis": null},
"y": {"datum": 14.05, "type": "quantitative", "axis": null}
}
},
{
"data": {"name": "one"},
"mark": {"type": "point", "shape": "triangle-right", "filled": true, "color": "#8b1a1a", "size": 30, "opacity": 1, "clip": false},
"encoding": {
"x": {"datum": 1772895300000, "type": "temporal", "axis": null},
"y": {"datum": 0, "type": "quantitative", "axis": null}
}
}
],
"resolve": {"axis": {"x": "independent", "y": "independent"}}
}
